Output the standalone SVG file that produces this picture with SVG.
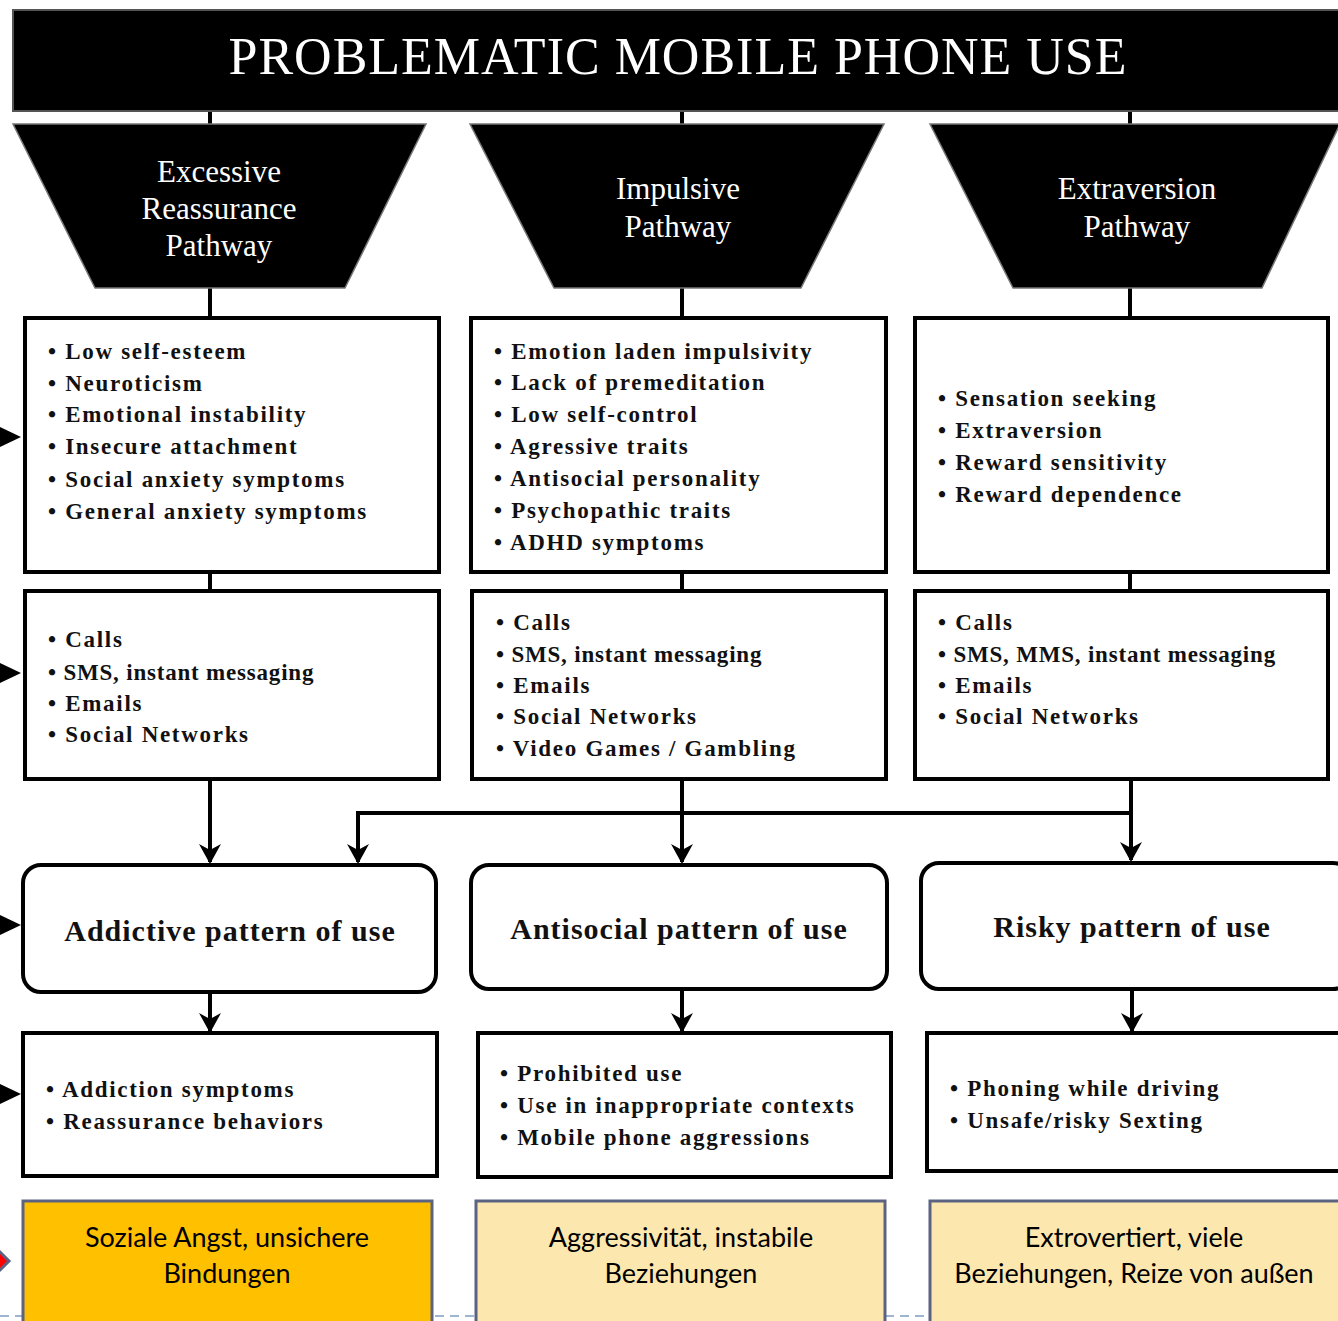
<svg xmlns="http://www.w3.org/2000/svg" width="1338" height="1321" viewBox="0 0 1338 1321">
<defs>
<marker id="ah" viewBox="0 0 22 22" refX="20" refY="11" markerWidth="22" markerHeight="22" markerUnits="userSpaceOnUse" orient="auto">
<path d="M2,0 L22,11 L2,22 L8,11 Z" fill="#000"/>
</marker>
<style>
.bar{fill:#000;stroke:#555;stroke-width:2}
.trap{fill:#000;stroke:#777;stroke-width:1.5}
.ttl{font-family:"Liberation Serif",serif;fill:#fff;text-anchor:middle}
.box{fill:#fff;stroke:#000;stroke-width:4}
.rbox{fill:#fff;stroke:#000;stroke-width:4}
.it{font-family:"Liberation Serif",serif;font-weight:bold;font-size:23px;letter-spacing:1.7px;fill:#111}
.cd{letter-spacing:0.8px}
.pt{font-family:"Liberation Serif",serif;font-weight:bold;font-size:30px;letter-spacing:1px;fill:#111;text-anchor:middle}
.ln{stroke:#000;stroke-width:4;fill:none}
.ar{stroke:#000;stroke-width:4;fill:none;marker-end:url(#ah)}
.ybox{stroke:#5B6282;stroke-width:3}
.yt{font-family:Lato,"Open Sans",sans-serif;font-size:27px;fill:#000;text-anchor:middle}
.tri{fill:#000}
</style>
</defs>
<rect width="1338" height="1321" fill="#fff"/>

<g id="connectors">
<line class="ln" x1="210" y1="111" x2="210" y2="125"/>
<line class="ln" x1="682" y1="111" x2="682" y2="125"/>
<line class="ln" x1="1130" y1="111" x2="1130" y2="125"/>
<line class="ln" x1="210" y1="288" x2="210" y2="318"/>
<line class="ln" x1="682" y1="288" x2="682" y2="318"/>
<line class="ln" x1="1130" y1="288" x2="1130" y2="318"/>
<line class="ln" x1="210" y1="572" x2="210" y2="591"/>
<line class="ln" x1="682" y1="572" x2="682" y2="591"/>
<line class="ln" x1="1130" y1="572" x2="1130" y2="591"/>
<line class="ar" x1="210" y1="780" x2="210" y2="862"/>
<line class="ar" x1="682" y1="780" x2="682" y2="862"/>
<line class="ar" x1="1131" y1="780" x2="1131" y2="860"/>
<polyline class="ar" points="1131,813 358,813 358,862"/>
<line class="ar" x1="210" y1="993" x2="210" y2="1031"/>
<line class="ar" x1="682" y1="990" x2="682" y2="1031"/>
<line class="ar" x1="1132" y1="990" x2="1132" y2="1031"/>
<line x1="0" y1="1316" x2="1338" y2="1316" stroke="#9DB5D0" stroke-width="2" stroke-dasharray="9,6"/>
</g>

<g id="title">
<rect class="bar" x="13" y="10" width="1330" height="101"/>
<text class="ttl" x="678" y="74" font-size="52" letter-spacing="1">PROBLEMATIC MOBILE PHONE USE</text>
</g>

<g id="pathway-left">
<polygon class="trap" points="13,124 426,124 345,288 95,288"/>
<text class="ttl" font-size="31" x="219" y="182">Excessive</text>
<text class="ttl" font-size="31" x="219" y="219">Reassurance</text>
<text class="ttl" font-size="31" x="219" y="256">Pathway</text>
</g>
<g id="pathway-mid">
<polygon class="trap" points="470,124 884,124 801,288 554,288"/>
<text class="ttl" font-size="31" x="678" y="199">Impulsive</text>
<text class="ttl" font-size="31" x="678" y="237">Pathway</text>
</g>
<g id="pathway-right">
<polygon class="trap" points="930,124 1340,124 1262,288 1013,288"/>
<text class="ttl" font-size="31" x="1137" y="199">Extraversion</text>
<text class="ttl" font-size="31" x="1137" y="237">Pathway</text>
</g>

<g id="traits-left">
<rect class="box" x="25" y="318" width="414" height="254"/>
<text class="it" x="48" y="359">• Low self-esteem</text>
<text class="it" x="48" y="391">• Neuroticism</text>
<text class="it" x="48" y="422">• Emotional instability</text>
<text class="it" x="48" y="454">• Insecure attachment</text>
<text class="it" x="48" y="487">• Social anxiety symptoms</text>
<text class="it" x="48" y="519">• General anxiety symptoms</text>
</g>
<g id="traits-mid">
<rect class="box" x="471" y="318" width="415" height="254"/>
<text class="it" x="494" y="359">• Emotion laden impulsivity</text>
<text class="it" x="494" y="390">• Lack of premeditation</text>
<text class="it" x="494" y="422">• Low self-control</text>
<text class="it" x="494" y="454">• Agressive traits</text>
<text class="it" x="494" y="486">• Antisocial personality</text>
<text class="it" x="494" y="518">• Psychopathic traits</text>
<text class="it" x="494" y="550">• ADHD symptoms</text>
</g>
<g id="traits-right">
<rect class="box" x="915" y="318" width="413" height="254"/>
<text class="it" x="938" y="406">• Sensation seeking</text>
<text class="it" x="938" y="438">• Extraversion</text>
<text class="it" x="938" y="470">• Reward sensitivity</text>
<text class="it" x="938" y="502">• Reward dependence</text>
</g>

<g id="uses-left">
<rect class="box" x="25" y="591" width="414" height="188"/>
<text class="it" x="48" y="647">• Calls</text>
<text class="it cd" x="48" y="680">• SMS, instant messaging</text>
<text class="it" x="48" y="711">• Emails</text>
<text class="it" x="48" y="742">• Social Networks</text>
</g>
<g id="uses-mid">
<rect class="box" x="472" y="591" width="414" height="188"/>
<text class="it" x="496" y="630">• Calls</text>
<text class="it cd" x="496" y="662">• SMS, instant messaging</text>
<text class="it" x="496" y="693">• Emails</text>
<text class="it" x="496" y="724">• Social Networks</text>
<text class="it" x="496" y="756">• Video Games / Gambling</text>
</g>
<g id="uses-right">
<rect class="box" x="915" y="591" width="413" height="188"/>
<text class="it" x="938" y="630">• Calls</text>
<text class="it cd" x="938" y="662">• SMS, MMS, instant messaging</text>
<text class="it" x="938" y="693">• Emails</text>
<text class="it" x="938" y="724">• Social Networks</text>
</g>

<g id="pattern-left">
<rect class="rbox" x="23" y="865" width="413" height="127" rx="18"/>
<text class="pt" x="230" y="941">Addictive pattern of use</text>
</g>
<g id="pattern-mid">
<rect class="rbox" x="471" y="865" width="416" height="124" rx="18"/>
<text class="pt" x="679" y="939">Antisocial pattern of use</text>
</g>
<g id="pattern-right">
<rect class="rbox" x="921" y="863" width="430" height="126" rx="18"/>
<text class="pt" x="1132" y="937">Risky pattern of use</text>
</g>

<g id="outcome-left">
<rect class="box" x="23" y="1033" width="414" height="143"/>
<text class="it" x="46" y="1097">• Addiction symptoms</text>
<text class="it" x="46" y="1129">• Reassurance behaviors</text>
</g>
<g id="outcome-mid">
<rect class="box" x="478" y="1033" width="413" height="144"/>
<text class="it" x="500" y="1081">• Prohibited use</text>
<text class="it" x="500" y="1113">• Use in inappropriate contexts</text>
<text class="it" x="500" y="1145">• Mobile phone aggressions</text>
</g>
<g id="outcome-right">
<rect class="box" x="927" y="1033" width="420" height="138"/>
<text class="it" x="950" y="1096">• Phoning while driving</text>
<text class="it" x="950" y="1128">• Unsafe/risky Sexting</text>
</g>

<g id="note-left">
<rect class="ybox" x="23" y="1201" width="409" height="130" fill="#FFC000"/>
<text class="yt" x="227" y="1247">Soziale Angst, unsichere</text>
<text class="yt" x="227" y="1283">Bindungen</text>
</g>
<g id="note-mid">
<rect class="ybox" x="476" y="1201" width="409" height="130" fill="#FCE8AE"/>
<text class="yt" x="681" y="1247">Aggressivität, instabile</text>
<text class="yt" x="681" y="1283">Beziehungen</text>
</g>
<g id="note-right">
<rect class="ybox" x="930" y="1201" width="420" height="130" fill="#FCE8AE"/>
<text class="yt" x="1134" y="1247">Extrovertiert, viele</text>
<text class="yt" x="1134" y="1283">Beziehungen, Reize von außen</text>
</g>

<g id="side-markers">
<polygon class="tri" points="-4,425 21,437 -4,449"/>
<polygon class="tri" points="-4,661 21,673 -4,685"/>
<polygon class="tri" points="-4,913 21,925 -4,937"/>
<polygon class="tri" points="-4,1082 21,1094 -4,1106"/>
<polygon points="-14,1238 9,1261 -14,1284" fill="#FF0000" stroke="#5B6282" stroke-width="3"/>
</g>
</svg>
